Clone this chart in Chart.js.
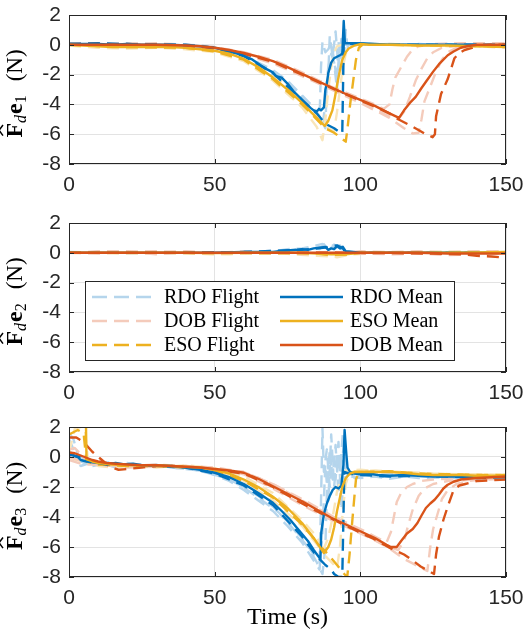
<!DOCTYPE html>
<html>
<head>
<meta charset="utf-8">
<script src="https://cdn.jsdelivr.net/npm/chart.js@4.4.0/dist/chart.umd.min.js"></script>
<style>
html, body { margin: 0; padding: 0; background: #fff; }
#wrap { position: relative; width: 524px; height: 635px; }
canvas { position: absolute; left: 0; }
</style>
</head>
<body>
<div id="wrap">
  <canvas id="c1" width="524" height="205" style="top:0px"></canvas>
  <canvas id="c2" width="524" height="200" style="top:205px"></canvas>
  <canvas id="c3" width="524" height="230" style="top:405px"></canvas>
</div>
<script>
// axis ticks
const xTicks = [0, 50, 100, 150];
const yTicks = [-8, -6, -4, -2, 0, 2];

// legend entries (column-wise, like the figure)
const legendNames = ['RDO Flight', 'DOB Flight', 'ESO Flight', 'RDO Mean', 'ESO Mean', 'DOB Mean'];

// colours
const blue = '#0072BD', yellow = '#EDB120', red = '#D95319';
const blueLight = '#b5d5ec', redLight = '#f4cbbb', yellowLight = '#f9e5b8';

// ---------- e1 ----------
const e1RdoMean = [[0,0.05],[5,0.05],[10,0.05],[15,0],[20,0.05],[25,0],[30,0],[35,0],[40,-0.05],[45,-0.1],[50,-0.2],[55,-0.45],[58,-0.6],[60,-0.75],[63,-1.0],[66,-1.4],[68,-1.65],[70,-1.85],[71,-2.1],[73,-2.2],[75,-2.6],[77,-3.1],[79,-3.5],[81,-3.9],[83,-4.25],[84,-4.4],[85,-4.5],[85.8,-4.3],[86.5,-4.4],[87.5,-4.2],[88,-3.0],[88.5,-2.6],[89,-1.9],[90,-1.2],[91,-0.9],[92,-0.8],[93,-0.7],[93.8,-0.6],[94.3,1.6],[94.7,0.1],[96,0.1],[100,0.1],[105,0.05],[110,0],[120,0],[130,0],[140,0]];
const e1EsoMean = [[0,0],[5,-0.05],[10,-0.1],[15,-0.15],[20,-0.15],[30,-0.15],[35,-0.15],[40,-0.2],[45,-0.3],[50,-0.4],[55,-0.6],[60,-0.95],[65,-1.5],[70,-2.2],[75,-3.0],[80,-3.9],[85,-4.9],[87.8,-5.45],[89,-5.1],[90.4,-4.4],[91.3,-3.5],[92.1,-2.6],[93,-1.7],[93.8,-1.0],[95,-0.5],[96,-0.25],[98,-0.05],[100,0.05],[103,0],[110,0],[120,-0.05],[130,-0.05],[140,-0.1],[150,-0.15]];
const e1DobMean = [[0,0],[10,0],[20,0],[30,0],[40,-0.05],[45,-0.1],[50,-0.2],[55,-0.35],[60,-0.55],[65,-0.8],[70,-1.1],[75,-1.5],[80,-1.95],[85,-2.4],[90,-2.85],[95,-3.3],[100,-3.7],[105,-4.1],[110,-4.6],[113.3,-4.9],[115,-4.4],[117,-3.9],[119,-3.5],[121,-2.9],[123,-2.35],[125,-1.8],[127,-1.3],[130,-0.7],[132,-0.45],[134.5,-0.2],[137,-0.08],[140,0],[145,0],[150,0]];
const e1RdoDark = [[0,0.05],[10,0.1],[20,0.05],[30,0],[40,0],[50,-0.2],[60,-0.75],[70,-1.9],[80,-3.7],[85,-4.6],[88,-5.3],[91,-5.6],[92.5,-5.8],[93.8,-5.95],[94.3,0.1],[97,0.05],[110,0],[130,0],[150,0]];
const e1DobDark = [[0,0.05],[10,0.05],[20,0],[30,0],[40,-0.05],[50,-0.25],[60,-0.6],[70,-1.15],[80,-2.0],[90,-2.9],[100,-3.75],[105,-4.15],[110,-4.6],[113,-5.0],[117,-5.4],[120.7,-5.8],[122,-5.95],[124.8,-6.2],[125.6,-6.0],[126,-4.8],[127.7,-3.3],[130,-2.3],[132.3,-0.9],[134,-0.55],[135.8,-0.35],[140,-0.1],[145,0],[150,0]];
const e1EsoDark = [[0,0],[20,-0.15],[40,-0.2],[50,-0.45],[60,-1.0],[70,-2.3],[80,-4.0],[88,-5.6],[91,-5.9],[93,-6.2],[95,-6.5],[95.6,-5.6],[96.5,-4.0],[97.5,-2.5],[98.5,-1.0],[99.5,-0.2],[101,0.05],[110,0],[130,-0.05],[150,-0.1]];
const e1RdoLightA = [[0,0.1],[5,0],[10,0.1],[15,0.05],[20,0.1],[25,0],[30,0.05],[35,0],[40,0],[45,-0.05],[50,-0.2],[55,-0.4],[60,-0.8],[65,-1.3],[70,-2.0],[72,-2.1],[75,-2.8],[78,-3.3],[80,-3.6],[83,-4.1],[85,-4.6],[86,-5.0],[86.5,-1.5],[87,0.2],[88,-0.5],[89,-0.3],[90,0.1],[91,-1.0],[92,-2.5],[92.5,0.2],[93,-0.5],[94,0.1],[95,0],[100,0.05],[110,0],[120,0.05],[130,0],[140,0]];
const e1RdoLightB = [[0,0],[10,0],[20,0.05],[30,0],[40,-0.05],[50,-0.25],[60,-0.7],[70,-1.7],[75,-2.4],[80,-3.4],[84,-4.2],[86,-4.8],[88,-5.6],[88.5,-2.5],[89,-1.5],[90,-0.6],[91,-1.2],[92,-3.0],[92.5,-1.2],[93,-0.3],[94,-2.0],[94.5,0.5],[95.5,-0.2],[96,0],[100,0],[110,0.05],[125,0],[140,0]];
const e1RdoLightC = [[0,0.05],[10,0],[20,0.1],[30,0.05],[40,0],[50,-0.15],[60,-0.65],[70,-1.8],[75,-2.5],[80,-3.5],[84,-4.3],[87,-5.4],[88,-4.0],[89,-2.0],[89.5,0.6],[90.5,-0.8],[91.5,0.9],[92.5,-1.5],[93.5,0.4],[94.5,-0.6],[95,1.0],[95.5,0],[97,0.05],[110,0],[130,0.05],[150,0]];
const e1DobLightA = [[0,0.05],[10,0.1],[20,0.05],[30,0.1],[40,0],[50,-0.15],[60,-0.5],[70,-1.0],[80,-1.85],[90,-2.8],[100,-3.6],[105,-4.0],[108,-4.3],[110,-4.0],[111,-3.0],[112,-2.2],[114,-1.5],[116,-0.8],[118,-0.3],[120,-0.1],[125,0.05],[135,0.1],[150,0.1]];
const e1DobLightB = [[0,0],[10,0],[20,0.1],[30,0],[40,-0.05],[50,-0.25],[60,-0.6],[70,-1.2],[80,-2.0],[90,-2.9],[100,-3.8],[110,-4.8],[113,-5.0],[115,-4.5],[117,-3.5],[119,-2.4],[121,-1.6],[123,-0.9],[125,-0.5],[128,-0.2],[135,0],[150,0.05]];
const e1DobLightC = [[0,0],[20,0],[40,-0.1],[50,-0.3],[60,-0.65],[70,-1.25],[80,-2.1],[90,-3.0],[100,-3.9],[110,-4.9],[115,-5.6],[118,-5.95],[120,-5.9],[121,-5.0],[122,-3.8],[124,-2.8],[126,-1.8],[128,-1.0],[130,-0.5],[133,-0.2],[140,0],[150,0.1]];
const e1EsoLightA = [[0,-0.05],[10,-0.2],[20,-0.25],[30,-0.2],[40,-0.3],[50,-0.5],[60,-1.1],[70,-2.4],[80,-4.2],[85,-5.5],[87,-6.4],[88,-5.0],[89,-3.0],[90,-1.5],[91,-0.5],[92,-0.1],[95,0.1],[100,0.1],[110,0],[120,0],[130,-0.1],[140,-0.1],[150,-0.2]];
const e1EsoLightB = [[0,0],[10,-0.05],[20,-0.1],[30,-0.1],[40,-0.15],[50,-0.35],[60,-0.9],[70,-2.0],[80,-3.7],[86,-4.9],[89,-5.6],[91,-5.8],[92,-4.5],[93,-3.0],[94,-1.5],[95,-0.6],[96,-0.2],[98,0],[110,0.05],[130,0],[150,-0.1]];

// ---------- e2 ----------
const e2RdoMean = [[0,0],[10,0],[20,0],[30,0],[40,0],[50,0],[60,0.05],[65,0.05],[70,0.05],[72,0.1],[75,0.15],[78,0.2],[80,0.25],[82,0.2],[84,0.3],[86,0.35],[88,0.4],[89,0.2],[90,0.3],[91,0.25],[92,0.45],[93,0.3],[94,0.4],[95,0.1],[100,0],[110,0],[120,0],[130,0],[140,0],[150,0]];
const e2EsoMean = [[0,0],[20,0],[40,0],[50,-0.02],[60,0],[70,0],[80,0],[85,-0.05],[90,-0.1],[95,-0.1],[100,0],[110,0],[120,0],[130,0],[140,0.02],[150,0.05]];
const e2DobMean = [[0,0],[20,0],[40,0],[60,0],[80,0],[100,0],[110,0],[120,0],[130,-0.05],[140,-0.05],[150,-0.05]];
const e2RdoDark = [[0,0],[30,0],[60,0.05],[80,0.2],[88,0.35],[92,0.5],[94,0.3],[95,0],[150,0]];
const e2DobDark = [[0,0],[30,0],[60,0],[90,0],[110,-0.02],[125,-0.05],[135,-0.1],[140,-0.2],[145,-0.25],[148,-0.3],[150,-0.25]];
const e2EsoDark = [[0,0],[30,0],[60,-0.02],[85,-0.05],[90,-0.15],[95,-0.12],[100,0],[150,0.05]];
const e2RdoLightA = [[0,0],[10,0.05],[20,-0.05],[30,0.05],[40,0],[50,0.05],[60,0],[70,0.1],[75,0.25],[80,0.3],[84,0.45],[87,0.6],[89,0.3],[91,0.55],[93,0.3],[95,0.1],[100,0],[120,0],[150,0]];
const e2RdoLightB = [[0,0],[20,0.05],[40,-0.05],[60,0.05],[70,0],[76,0.2],[80,0.1],[84,0.3],[88,0.45],[90,0.2],[92,0.4],[94,0.25],[96,0],[150,0]];
const e2RdoLightC = [[0,0.05],[15,0],[30,-0.05],[45,0.05],[60,0],[70,0.15],[78,0.1],[83,0.35],[86,0.25],[88,0.65],[90,0.35],[93,0.5],[95,0.05],[110,0],[150,0.05]];
const e2DobLightA = [[0,0],[10,0.1],[20,0.1],[30,0.05],[40,0.1],[50,0],[60,0.05],[70,-0.05],[80,0],[90,-0.1],[100,0.1],[110,0.05],[120,0.1],[130,0.05],[140,0.1],[150,0.1]];
const e2DobLightB = [[0,0],[10,-0.05],[20,0.05],[30,-0.1],[40,0.05],[50,-0.05],[60,0],[70,0.05],[80,-0.1],[90,0],[100,-0.05],[110,-0.1],[120,-0.05],[130,-0.15],[140,-0.1],[150,-0.05]];
const e2DobLightC = [[0,0],[15,0.05],[30,0.1],[45,-0.05],[60,0.1],[75,0],[90,0.05],[105,-0.05],[120,0.05],[135,-0.05],[150,0]];
const e2EsoLightA = [[0,0],[20,-0.05],[40,-0.05],[55,-0.1],[70,0],[85,-0.2],[90,-0.25],[95,-0.15],[100,0],[120,0.05],[150,0.05]];
const e2EsoLightB = [[0,0],[25,0.05],[50,-0.1],[75,0],[88,-0.15],[92,-0.3],[97,-0.1],[110,0],[130,0.05],[150,0.1]];

// ---------- e3 ----------
const e3RdoMean = [[0,0.1],[1,0.15],[2,0.05],[3,0],[4,-0.2],[6,-0.3],[8,-0.35],[10,-0.4],[13,-0.5],[16,-0.4],[19,-0.5],[22,-0.45],[25,-0.55],[30,-0.55],[35,-0.6],[40,-0.7],[45,-0.85],[50,-1.05],[55,-1.35],[60,-1.8],[65,-2.4],[70,-3.05],[73,-3.6],[76,-4.2],[79,-4.9],[82,-5.6],[84,-6.2],[85.5,-6.6],[86.3,-6.8],[86.6,-5.0],[87.5,-3.8],[88.5,-3.1],[89.5,-2.6],[90.5,-2.2],[91.5,-2.0],[92.5,-2.1],[93.5,-1.9],[94.2,-0.5],[94.6,1.8],[95.2,0.2],[95.6,-0.7],[96.5,-1.0],[98,-1.1],[100,-1.15],[103,-1.1],[106,-1.2],[110,-1.25],[115,-1.2],[120,-1.25],[125,-1.3],[130,-1.3],[135,-1.3],[140,-1.35],[145,-1.3],[150,-1.3]];
const e3EsoMean = [[0,2.5],[5.8,2.5],[6.0,-0.15],[8,-0.3],[10,-0.4],[15,-0.5],[20,-0.55],[25,-0.55],[30,-0.55],[35,-0.6],[40,-0.65],[45,-0.7],[50,-0.85],[55,-1.1],[60,-1.5],[65,-2.0],[70,-2.65],[75,-3.4],[80,-4.4],[84,-5.4],[87.5,-6.4],[89,-6.0],[90,-5.5],[91,-4.7],[92,-3.6],[93,-2.7],[93.8,-2.0],[95,-1.4],[96.5,-1.1],[98,-1.0],[100,-0.98],[105,-1.0],[110,-1.0],[115,-1.05],[120,-1.15],[125,-1.2],[130,-1.2],[135,-1.2],[140,-1.25],[145,-1.25],[150,-1.25]];
const e3DobMean = [[0,0.3],[2,0.25],[4,0.1],[6,-0.05],[8,-0.2],[10,-0.3],[13,-0.4],[16,-0.45],[20,-0.5],[25,-0.55],[30,-0.55],[35,-0.6],[40,-0.65],[45,-0.7],[50,-0.8],[55,-0.9],[60,-1.05],[65,-1.45],[70,-1.95],[75,-2.45],[80,-2.95],[85,-3.5],[90,-4.05],[95,-4.5],[100,-4.95],[105,-5.4],[109,-5.85],[110.5,-6.0],[112.5,-6.0],[114,-5.6],[116,-5.1],[118,-4.8],[119.6,-4.4],[121,-3.9],[122.5,-3.4],[124,-3.1],[125.5,-2.85],[127,-2.5],[128.5,-2.1],[130,-1.85],[132,-1.65],[134.5,-1.5],[137,-1.45],[140,-1.4],[145,-1.35],[150,-1.3]];
const e3RdoDark = [[0,0.2],[10,-0.35],[20,-0.5],[30,-0.6],[40,-0.7],[50,-1.1],[60,-1.9],[70,-3.2],[80,-5.3],[85,-6.6],[88,-7.2],[90,-7.5],[91,-7.8],[92.5,-8.0],[93.8,-8.0],[94.5,-1.0],[96,-1.1],[100,-1.2],[110,-1.3],[120,-1.25],[130,-1.3],[140,-1.4],[150,-1.35]];
const e3DobDark = [[0,1.3],[2.5,1.3],[5,1.0],[8,0.35],[11,-0.15],[14,-0.65],[17,-0.85],[20,-0.8],[25,-0.7],[30,-0.6],[35,-0.6],[40,-0.65],[50,-0.85],[60,-1.1],[70,-2.0],[80,-3.1],[90,-4.1],[100,-5.05],[105,-5.5],[110,-6.05],[115,-6.5],[118,-6.9],[120.7,-7.3],[123,-7.55],[125.3,-7.8],[126,-6.5],[127,-5.3],[128.5,-4.2],[130,-3.3],[132,-2.2],[134,-1.9],[136,-1.8],[140,-1.6],[145,-1.55],[150,-1.5]];
const e3EsoDark = [[0,1.5],[3,1.8],[5,1.6],[6,-0.3],[10,-0.5],[20,-0.6],[30,-0.6],[40,-0.7],[50,-0.9],[60,-1.6],[70,-2.7],[80,-4.5],[86,-5.9],[89,-6.5],[92,-7.2],[94.5,-7.8],[95.5,-8.0],[96.3,-6.5],[97,-4.8],[97.8,-3.0],[98.5,-1.5],[99.3,-1.1],[102,-1.0],[110,-0.95],[120,-1.1],[130,-1.15],[140,-1.2],[150,-1.2]];
const e3RdoLightA = [[0,1.6],[1.5,1.2],[3,0.2],[5,-0.2],[8,-0.4],[12,-0.3],[16,-0.55],[20,-0.4],[25,-0.6],[30,-0.5],[35,-0.7],[40,-0.65],[45,-0.95],[50,-1.1],[55,-1.5],[60,-2.0],[65,-2.6],[70,-3.3],[75,-4.3],[80,-5.4],[84,-6.5],[86,-7.0],[86.5,-3.0],[87,1.9],[87.5,-1.0],[88.5,0.5],[89.5,-2.0],[90.5,0],[91.5,-1.5],[92.5,1.0],[93.5,-3.5],[94.5,-0.5],[95.5,-1.0],[97,-1.3],[100,-1.4],[105,-1.3],[110,-1.45],[115,-1.3],[120,-1.4],[130,-1.35],[140,-1.45],[150,-1.4]];
const e3RdoLightB = [[0,0.5],[2,-0.2],[4,-0.6],[7,-0.4],[10,-0.5],[14,-0.35],[18,-0.6],[22,-0.5],[27,-0.65],[32,-0.55],[37,-0.75],[42,-0.8],[47,-1.0],[52,-1.3],[57,-1.7],[62,-2.3],[67,-3.0],[72,-3.7],[77,-4.8],[82,-6.0],[85,-7.0],[87,-7.8],[88,-6.0],[88.5,-2.5],[89.5,0.5],[90.5,-1.5],[91.5,0.8],[92.5,-2.5],[93.5,-0.5],[94.5,1.0],[95.5,-0.9],[97,-1.2],[100,-1.05],[105,-1.2],[110,-1.15],[120,-1.3],[130,-1.25],[140,-1.35],[150,-1.3]];
const e3RdoLightC = [[0,1.2],[2,0.3],[4,-0.3],[8,-0.6],[12,-0.45],[16,-0.7],[20,-0.55],[25,-0.5],[30,-0.65],[35,-0.55],[40,-0.8],[45,-0.9],[50,-1.2],[55,-1.6],[60,-2.2],[65,-2.9],[70,-3.6],[75,-4.6],[80,-5.7],[84,-6.9],[86,-7.5],[87,-5.0],[88,-0.5],[89,-3.0],[90,1.5],[91,-2.0],[92,0.2],[93,-1.0],[94,1.6],[95,-1.5],[96,-1.0],[98,-1.4],[100,-1.2],[110,-1.35],[120,-1.2],[130,-1.4],[140,-1.3],[150,-1.45]];
const e3DobLightA = [[0,0.5],[2,0.6],[4,0.2],[6,-0.3],[10,-0.5],[15,-0.6],[20,-0.55],[30,-0.6],[40,-0.7],[50,-0.8],[60,-1.0],[70,-1.8],[80,-2.9],[90,-3.9],[100,-4.8],[105,-5.3],[109,-5.7],[110.5,-5.0],[111.5,-4.0],[112.5,-3.0],[114,-2.4],[116,-2.0],[118,-1.8],[121,-1.6],[125,-1.5],[130,-1.45],[140,-1.4],[150,-1.35]];
const e3DobLightB = [[0,-0.2],[5,-0.5],[10,-0.5],[20,-0.6],[30,-0.5],[40,-0.6],[50,-0.75],[60,-1.15],[70,-2.1],[80,-3.2],[90,-4.2],[100,-5.1],[110,-6.0],[113,-6.2],[115,-5.6],[116.5,-4.5],[118,-3.5],[120,-2.6],[122,-2.1],[125,-1.8],[130,-1.6],[140,-1.5],[150,-1.45]];
const e3DobLightC = [[0,0],[5,-0.3],[10,-0.4],[20,-0.7],[30,-0.65],[40,-0.6],[50,-0.7],[60,-1.0],[70,-1.8],[80,-2.8],[90,-3.9],[100,-5.0],[110,-6.1],[115,-6.8],[120,-7.3],[123,-7.6],[124,-6.0],[125,-4.8],[126.5,-3.8],[128,-2.8],[130,-2.2],[133,-1.8],[137,-1.6],[142,-1.5],[150,-1.45]];
const e3EsoLightA = [[0,0.3],[2,1.9],[4,2.0],[5.5,1.8],[6.5,-0.2],[10,-0.6],[15,-0.7],[20,-0.6],[30,-0.7],[40,-0.55],[50,-0.75],[60,-1.3],[70,-2.4],[80,-4.2],[85,-5.3],[88,-6.6],[90,-7.0],[92,-7.4],[93,-6.0],[94,-3.5],[95,-1.8],[96,-1.2],[98,-0.95],[105,-0.9],[115,-1.0],[125,-1.1],[135,-1.15],[150,-1.2]];
const e3EsoLightB = [[0,-0.1],[5,-0.3],[10,-0.5],[20,-0.5],[30,-0.6],[40,-0.6],[50,-0.85],[60,-1.6],[70,-2.9],[80,-4.6],[85,-5.8],[87,-6.3],[89,-5.4],[90.5,-4.0],[92,-2.3],[93.5,-1.3],[95,-0.9],[100,-0.85],[110,-1.0],[120,-1.1],[130,-1.2],[140,-1.15],[150,-1.2]];

const DASH = [12, 7];

function pts(arr) { return arr.map(p => ({ x: p[0], y: p[1] })); }

function ds(arr, color, dashed, order) {
  return {
    data: pts(arr), borderColor: color, borderWidth: 2.4,
    borderDash: dashed ? DASH : [], pointRadius: 0, tension: 0,
    fill: false, order: order, borderCapStyle: 'butt', borderJoinStyle: 'round'
  };
}

function buildSets(s) {
  return [
    ds(s.rdoL[0], blueLight, true, 20), ds(s.rdoL[1], blueLight, true, 20), ds(s.rdoL[2], blueLight, true, 20),
    ds(s.eso[0], yellowLight, true, 19), ds(s.eso[1], yellowLight, true, 19),
    ds(s.dobL[0], redLight, true, 18), ds(s.dobL[1], redLight, true, 18), ds(s.dobL[2], redLight, true, 18),
    ds(s.rdoD, blue, true, 12), ds(s.esoD, yellow, true, 11), ds(s.dobD, red, true, 10),
    ds(s.rdoM, blue, false, 3), ds(s.esoM, yellow, false, 2), ds(s.dobM, red, false, 1)
  ];
}

// box + inward ticks, MATLAB style
const framePlugin = {
  id: 'frame',
  afterDatasetsDraw(chart) {
    const { ctx, chartArea: a, scales: { x, y } } = chart;
    ctx.save();
    ctx.strokeStyle = '#262626';
    ctx.lineWidth = 1;
    ctx.setLineDash([]);
    ctx.strokeRect(a.left + 0.5, a.top + 0.5, a.right - a.left - 1, a.bottom - a.top - 1);
    ctx.beginPath();
    xTicks.forEach(t => {
      const px = Math.round(x.getPixelForValue(t)) + 0.5;
      ctx.moveTo(px, a.bottom); ctx.lineTo(px, a.bottom - 5);
      ctx.moveTo(px, a.top); ctx.lineTo(px, a.top + 5);
    });
    yTicks.forEach(t => {
      const py = Math.round(y.getPixelForValue(t)) + 0.5;
      ctx.moveTo(a.left, py); ctx.lineTo(a.left + 5, py);
      ctx.moveTo(a.right, py); ctx.lineTo(a.right - 5, py);
    });
    ctx.stroke();
    ctx.restore();
  }
};

// y label: F-hat_d e_k (N)
const yLabelPlugin = {
  id: 'ylabel',
  afterDraw(chart, args, opts) {
    const { ctx, chartArea: a } = chart;
    const big = 'bold 24px "Liberation Serif"';
    const subI = 'italic 16px "Liberation Serif"';
    const sub = '16px "Liberation Serif"';
    const norm = '23px "Liberation Serif"';
    const parts = [
      { t: 'F', f: big, dy: 0 },
      { t: 'd', f: subI, dy: 4 },
      { t: 'e', f: big, dy: 0, pre: 1 },
      { t: opts.sub, f: sub, dy: 4 },
      { t: '(N)', f: norm, dy: 0, pre: 14 }
    ];
    let total = 0;
    parts.forEach(p => { ctx.font = p.f; p.w = ctx.measureText(p.t).width; total += p.w + (p.pre || 0); });
    ctx.save();
    ctx.translate(22, (a.top + a.bottom) / 2 + 4);
    ctx.rotate(-Math.PI / 2);
    ctx.fillStyle = '#000';
    ctx.textBaseline = 'alphabetic';
    let cx = -total / 2;
    parts.forEach((p, i) => {
      cx += p.pre || 0;
      ctx.font = p.f;
      ctx.fillText(p.t, cx, p.dy);
      if (i === 0) {
        ctx.beginPath();
        ctx.strokeStyle = '#000';
        ctx.lineWidth = 1.5;
        ctx.moveTo(cx + 2, -19);
        ctx.lineTo(cx + p.w / 2, -23);
        ctx.lineTo(cx + p.w - 2, -19);
        ctx.stroke();
      }
      cx += p.w;
    });
    ctx.restore();
  }
};

const legendPlugin = {
  id: 'figLegend',
  afterDraw(chart, args, opts) {
    if (!opts.show) return;
    const ctx = chart.ctx;
    const top = opts.top;
    const styles = [
      [blueLight, true], [redLight, true], [yellow, true],
      [blue, false], [yellow, false], [red, false]
    ];
    ctx.save();
    ctx.fillStyle = '#fff';
    ctx.fillRect(85, top, 370, 80);
    ctx.strokeStyle = '#262626';
    ctx.lineWidth = 1;
    ctx.setLineDash([]);
    ctx.strokeRect(85.5, top + 0.5, 369, 79);
    ctx.font = '20px "Liberation Serif"';
    ctx.textBaseline = 'middle';
    ctx.fillStyle = '#000';
    legendNames.forEach((name, i) => {
      const col = Math.floor(i / 3), row = i % 3;
      const x0 = col === 0 ? 92 : 280;
      const x1 = col === 0 ? 157 : 343;
      const yy = top + 16 + row * 24;
      ctx.beginPath();
      ctx.strokeStyle = styles[i][0];
      ctx.lineWidth = 2.4;
      ctx.setLineDash(styles[i][1] ? [15, 7] : []);
      ctx.moveTo(x0, yy); ctx.lineTo(x1, yy);
      ctx.stroke();
      ctx.setLineDash([]);
      ctx.fillText(name, x1 + 7, yy + 1);
    });
    ctx.restore();
  }
};

const xTitlePlugin = {
  id: 'xTitle',
  afterDraw(chart, args, opts) {
    if (!opts.show) return;
    const { ctx, chartArea: a } = chart;
    ctx.save();
    ctx.font = '24px "Liberation Serif"';
    ctx.fillStyle = '#000';
    ctx.textAlign = 'center';
    ctx.textBaseline = 'middle';
    ctx.fillText('Time (s)', (a.left + a.right) / 2, a.bottom + 41);
    ctx.restore();
  }
};

function makeChart(id, sets, padTop, xH, sub, legendTop, showX) {
  return new Chart(document.getElementById(id), {
    type: 'line',
    data: { datasets: buildSets(sets) },
    plugins: [framePlugin, yLabelPlugin, legendPlugin, xTitlePlugin],
    options: {
      responsive: false,
      animation: false,
      events: [],
      layout: { padding: { top: padTop, right: 18, left: 0, bottom: 0 } },
      plugins: {
        legend: { display: false },
        tooltip: { enabled: false },
        ylabel: { sub: sub },
        figLegend: { show: legendTop != null, top: legendTop },
        xTitle: { show: showX }
      },
      scales: {
        x: {
          type: 'linear', min: 0, max: 150,
          afterBuildTicks: s => { s.ticks = xTicks.map(v => ({ value: v })); },
          afterFit: s => { s.height = xH; s.paddingLeft = 0; s.paddingRight = 0; },
          grid: { color: '#e3e3e3', drawTicks: false },
          border: { display: false },
          ticks: { padding: 9, color: '#262626', font: { family: '"Liberation Sans"', size: 21 } }
        },
        y: {
          min: -8, max: 2,
          afterBuildTicks: s => { s.ticks = yTicks.map(v => ({ value: v })); },
          afterFit: s => { s.width = 69; s.paddingTop = 0; s.paddingBottom = 0; },
          grid: { color: '#e3e3e3', drawTicks: false },
          border: { display: false },
          ticks: { padding: 8, color: '#262626', font: { family: '"Liberation Sans"', size: 21 } }
        }
      }
    }
  });
}

makeChart('c1', {
  rdoL: [e1RdoLightA, e1RdoLightB, e1RdoLightC], dobL: [e1DobLightA, e1DobLightB, e1DobLightC], eso: [e1EsoLightA, e1EsoLightB],
  rdoD: e1RdoDark, dobD: e1DobDark, esoD: e1EsoDark, rdoM: e1RdoMean, esoM: e1EsoMean, dobM: e1DobMean
}, 15, 41, '1', null, false);

makeChart('c2', {
  rdoL: [e2RdoLightA, e2RdoLightB, e2RdoLightC], dobL: [e2DobLightA, e2DobLightB, e2DobLightC], eso: [e2EsoLightA, e2EsoLightB],
  rdoD: e2RdoDark, dobD: e2DobDark, esoD: e2EsoDark, rdoM: e2RdoMean, esoM: e2EsoMean, dobM: e2DobMean
}, 18, 33, '2', 76, false);

makeChart('c3', {
  rdoL: [e3RdoLightA, e3RdoLightB, e3RdoLightC], dobL: [e3DobLightA, e3DobLightB, e3DobLightC], eso: [e3EsoLightA, e3EsoLightB],
  rdoD: e3RdoDark, dobD: e3DobDark, esoD: e3EsoDark, rdoM: e3RdoMean, esoM: e3EsoMean, dobM: e3DobMean
}, 22, 58, '3', null, true);
</script>
</body>
</html>
